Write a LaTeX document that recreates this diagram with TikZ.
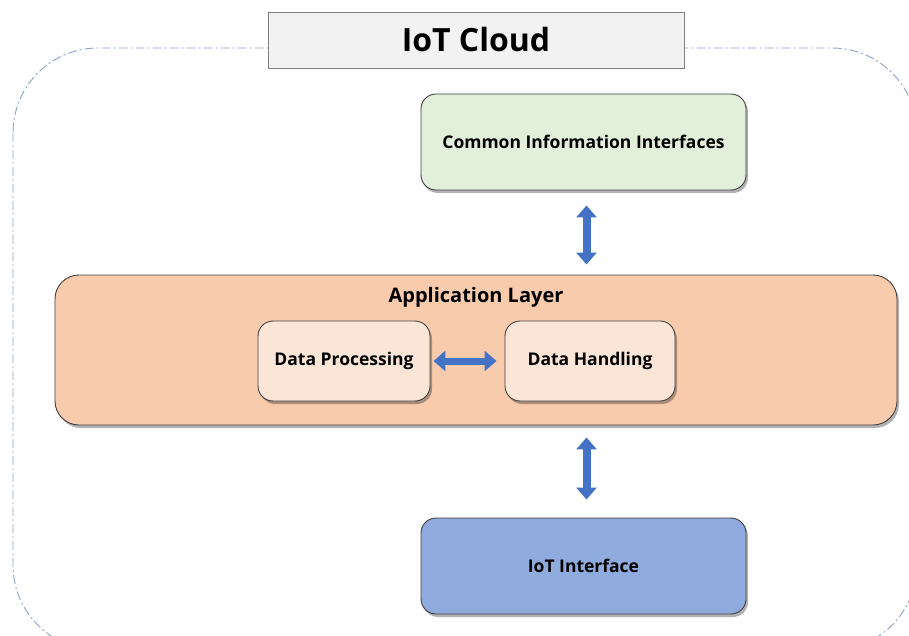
\documentclass[tikz,border=0pt]{standalone}
\usepackage{fontspec}
\setmainfont{Open Sans}
\usetikzlibrary{arrows.meta,shadows}
\definecolor{cloudline}{HTML}{8EA2C6}
\definecolor{titlefill}{HTML}{F2F2F2}
\definecolor{greenfill}{HTML}{E2EFDA}
\definecolor{orangefill}{HTML}{F8CBAD}
\definecolor{peachfill}{HTML}{FBE5D6}
\definecolor{bluefill}{HTML}{8FAADC}
\definecolor{arrowblue}{HTML}{4472C4}
\definecolor{boxline}{HTML}{404040}
\begin{document}
\begin{tikzpicture}
    [
        x=1pt, y=-1pt,
        layerbox/.style={draw=boxline, line width=0.9pt, rounded corners=15pt,
            drop shadow={shadow xshift=2pt, shadow yshift=-3pt, opacity=0.3, fill=black},
            font=\bfseries\fontsize{17.5}{20}\selectfont, align=center},
        blockarrow/.style={arrowblue, line width=8pt,
            {Triangle[width=20pt,length=12pt]}-{Triangle[width=20pt,length=12pt]}},
    ]
        \useasboundingbox (0,0) rectangle (909,636);
        % dashed cloud outline
        \draw[cloudline, line width=0.9pt, rounded corners=85pt,
            dash pattern=on 9pt off 3pt on 2pt off 3pt] (13,48) rectangle (917,650);
        \node[draw=gray, fill=titlefill, line width=0.8pt, minimum width=416pt, minimum height=56pt,
            font=\bfseries\fontsize{32}{36}\selectfont] (cloud) at (476,40) {IoT Cloud};

        \node[layerbox, fill=greenfill, minimum width=325pt, minimum height=96pt] (cii) at (583.5,142) {Common Information Interfaces};
        \node[layerbox, fill=orangefill, rounded corners=24pt, minimum width=842pt, minimum height=150pt] (app) at (476,350) {};
        \node[font=\bfseries\fontsize{20}{22}\selectfont] (apptitle) at (476,297) {Application Layer};
        \node[layerbox, fill=peachfill, minimum width=172pt, minimum height=80pt] (dp) at (344,361) {Data Processing};
        \node[layerbox, fill=peachfill, minimum width=170pt, minimum height=80pt] (dh) at (590,361) {Data Handling};
        \node[layerbox, fill=bluefill, minimum width=325pt, minimum height=96pt] (iot) at (583.5,566) {IoT Interface};

        \draw[blockarrow, shorten <=15pt, shorten >=10pt] ([xshift=3pt]cii.south) -- ([xshift=3pt]cii.south |- app.north);
        \draw[blockarrow, shorten <=12pt, shorten >=18pt] ([xshift=3pt]iot.north |- app.south) -- ([xshift=3pt]iot.north);
        \draw[blockarrow, line width=7pt, shorten <=3pt, shorten >=8pt] (dp.east) -- (dh.west);
\end{tikzpicture}
\end{document}
